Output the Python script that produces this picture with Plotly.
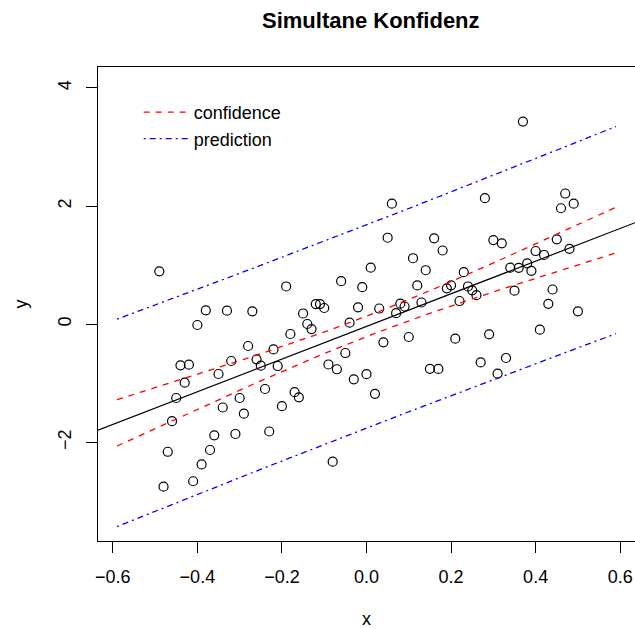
import numpy as np
import plotly.graph_objects as go

# ---- data ----
x_vals = [-0.49, -0.48, -0.47, -0.46, -0.45, -0.44, -0.43, -0.42, -0.41, -0.40,
          -0.39, -0.38, -0.37, -0.36, -0.35, -0.34, -0.33, -0.32, -0.31, -0.30,
          -0.29, -0.28, -0.27, -0.26, -0.25, -0.24, -0.23, -0.22, -0.21, -0.20,
          -0.19, -0.18, -0.17, -0.16, -0.15, -0.14, -0.13, -0.12, -0.11, -0.10,
          -0.09, -0.08, -0.07, -0.06, -0.05, -0.04, -0.03, -0.02, -0.01, 0.00,
          0.01, 0.02, 0.03, 0.04, 0.05, 0.06, 0.07, 0.08, 0.09, 0.10,
          0.11, 0.12, 0.13, 0.14, 0.15, 0.16, 0.17, 0.18, 0.19, 0.20,
          0.21, 0.22, 0.23, 0.24, 0.25, 0.26, 0.27, 0.28, 0.29, 0.30,
          0.31, 0.32, 0.33, 0.34, 0.35, 0.36, 0.37, 0.38, 0.39, 0.40,
          0.41, 0.42, 0.43, 0.44, 0.45, 0.46, 0.47, 0.48, 0.49, 0.50]
y_vals = [0.897, -2.748, -2.157, -1.640, -1.247, -0.694, -0.988, -0.684, -2.656, -0.012,
          -2.372, 0.237, -2.127, -1.878, -0.841, -1.408, 0.230, -0.621, -1.856, -1.247,
          -1.513, -0.367, 0.220, -0.592, -0.700, -1.095, -1.814, -0.426, -0.706, -1.386,
          0.640, -0.164, -1.149, -1.235, 0.183, 0.005, -0.080, 0.343, 0.343, 0.276,
          -0.680, -2.325, -0.761, 0.729, -0.486, 0.027, -0.931, 0.288, 0.628, -0.844,
          0.958, -1.176, 0.267, -0.305, 1.465, 2.041, 0.188, 0.349, 0.301, -0.215,
          1.118, 0.657, 0.369, 0.915, -0.753, 1.455, -0.756, 1.249, 0.609, 0.660,
          -0.244, 0.394, 0.882, 0.640, 0.575, 0.492, -0.646, 2.134, -0.169, 1.426,
          -0.836, 1.371, -0.570, 0.958, 0.569, 0.956, 3.431, 1.032, 0.905, 1.240,
          -0.091, 1.173, 0.347, 0.589, 1.438, 1.964, 2.213, 1.277, 2.041, 0.220]
band_x_limits = [-0.59, 0.59]
x_ticks = [-0.6, -0.4, -0.2, 0.0, 0.2, 0.4, 0.6]
x_tick_text = ["\u22120.6", "\u22120.4", "\u22120.2", "0.0", "0.2", "0.4", "0.6"]
y_ticks = [-2, 0, 2, 4]
y_tick_text = ["\u22122", "0", "2", "4"]
crit_multiplier = 1.9845  # t quantile (0.975, n-2)

# ---- model ----
xa = np.array(x_vals)
ya = np.array(y_vals)
n = len(xa)
b1, b0 = np.polyfit(xa, ya, 1)
resid = ya - (b0 + b1 * xa)
s = np.sqrt(np.sum(resid ** 2) / (n - 2))
xbar = xa.mean()
sxx = np.sum((xa - xbar) ** 2)

gx = np.linspace(band_x_limits[0], band_x_limits[1], 200)
fit = b0 + b1 * gx
se_c = s * np.sqrt(1 / n + (gx - xbar) ** 2 / sxx)
se_p = s * np.sqrt(1 + 1 / n + (gx - xbar) ** 2 / sxx)
conf_lo, conf_hi = fit - crit_multiplier * se_c, fit + crit_multiplier * se_c
pred_lo, pred_hi = fit - crit_multiplier * se_p, fit + crit_multiplier * se_p

x_range = [-0.635, 0.635]
y_range = [-3.667, 4.354]

FONT = "Liberation Sans, Arial, Helvetica, sans-serif"
fig = go.Figure()

fig.add_trace(go.Scatter(x=xa, y=ya, mode="markers", showlegend=False,
                         marker=dict(symbol="circle-open", size=9, color="black",
                                     line=dict(width=1.2, color="black"))))
fig.add_trace(go.Scatter(x=x_range, y=[b0 + b1 * v for v in x_range], mode="lines",
                         showlegend=False, line=dict(color="black", width=1.2)))
fig.add_trace(go.Scatter(x=gx, y=conf_hi, mode="lines", name="confidence",
                         line=dict(color="red", width=1.3, dash="6px,6px")))
fig.add_trace(go.Scatter(x=gx, y=conf_lo, mode="lines", showlegend=False,
                         line=dict(color="red", width=1.3, dash="6px,6px")))
fig.add_trace(go.Scatter(x=gx, y=pred_hi, mode="lines", name="prediction",
                         line=dict(color="blue", width=1.3, dash="2px,4px,6px,4px")))
fig.add_trace(go.Scatter(x=gx, y=pred_lo, mode="lines", showlegend=False,
                         line=dict(color="blue", width=1.3, dash="2px,4px,6px,4px")))

axis_common = dict(showline=True, linecolor="black", linewidth=1,
                   ticks="outside", ticklen=11, tickwidth=1, tickcolor="black",
                   showgrid=False, zeroline=False,
                   tickfont=dict(family=FONT, size=18, color="black"))

fig.update_layout(
    width=635, height=629,
    margin=dict(l=98, r=0, t=67, b=88),
    paper_bgcolor="white", plot_bgcolor="white",
    font=dict(family=FONT, size=18, color="black"),
    title=dict(text="<b>Simultane Konfidenz</b>", xref="paper",
               x=0.508, xanchor="center", y=1 - 20 / 629, yanchor="middle",
               font=dict(family=FONT, size=22, color="black")),
    xaxis=dict(range=x_range, tickvals=x_ticks, ticktext=x_tick_text, mirror=True,
               title=dict(text="x", standoff=30, font=dict(family=FONT, size=18)),
               ticklabelstandoff=8, **axis_common),
    yaxis=dict(range=y_range, tickvals=y_ticks, ticktext=y_tick_text, tickangle=-90,
               mirror=False,
               title=dict(text="y", standoff=22, font=dict(family=FONT, size=18)),
               ticklabelstandoff=8, **axis_common),
    legend=dict(x=0.0758, y=0.9367 + 3 / 474, xanchor="left", yanchor="top",
                bgcolor="rgba(0,0,0,0)", borderwidth=0, itemwidth=45,
                font=dict(family=FONT, size=18, color="black"), tracegroupgap=0),
)

fig.write_html("out.html")
